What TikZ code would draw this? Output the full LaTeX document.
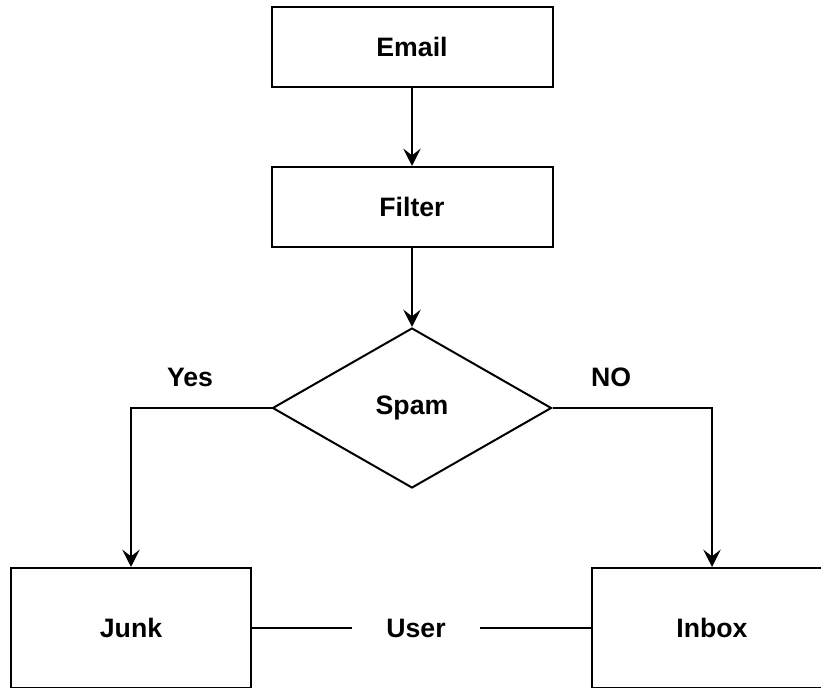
\documentclass[tikz,border=0pt]{standalone}
\usepackage{fontspec}
\setmainfont{Liberation Sans}
\usetikzlibrary{calc,positioning,shapes.geometric,arrows.meta}

\begin{document}
\begin{tikzpicture}[x=0.75pt,y=0.75pt,font=\fontsize{20pt}{22pt}\selectfont\bfseries,
      bx/.style={draw=black,fill=white,line width=1.5pt,minimum height=60pt,minimum width=210.75pt,align=center,inner sep=0pt},
      sq/.style={bx,minimum height=90pt,minimum width=180pt},
      dm/.style={diamond,draw=black,fill=white,line width=1.5pt,minimum height=120pt,minimum width=209.25pt,inner sep=0pt},
      lb/.style={inner sep=0pt},
      ar/.style={-{Stealth[length=13pt,width=13pt,inset=5pt]},line width=1.5pt,color=black},
      ln/.style={line width=1.5pt,color=black}]
      \useasboundingbox (0,0) rectangle (821,688);
      \node[bx] (email) at (412,641) {Email};
      \node[bx] (filter) at (412,481) {Filter};
      \node[dm] (spam) at (412,280) {Spam};
      \node[sq] (junk) at (131,60) {Junk};
      \node[sq] (inbox) at (712,60) {Inbox};
      \node[lb,minimum width=96pt] (user) at (416,60) {User};
      \node[lb] (yes) at (190,311) {Yes};
      \node[lb] (no) at (611,311) {NO};
      \draw[ar] (email) -- (filter); \draw[ar] (filter) -- (spam);
      \draw[ar] (spam.west) -| (junk.north); \draw[ar] (spam.east) -| (inbox.north);
      \draw[ln] (junk) -- (user); \draw[ln] (user) -- (inbox);
    \end{tikzpicture}
\end{document}
